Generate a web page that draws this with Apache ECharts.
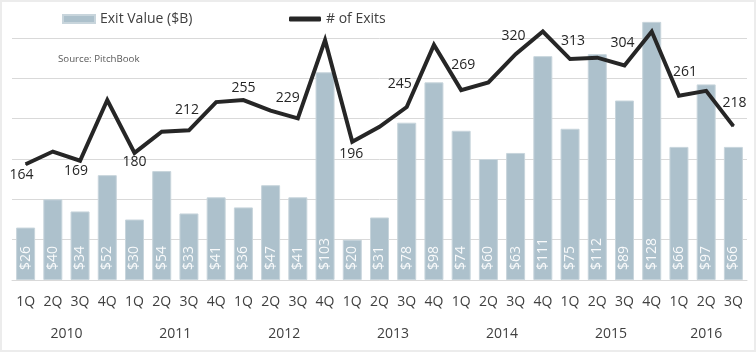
<!DOCTYPE html>
<html>
<head>
<meta charset="utf-8">
<script src="https://cdn.jsdelivr.net/npm/echarts@6/dist/echarts.min.js"></script>
<style>
  html, body { margin: 0; padding: 0; background: #fff; }
  #chart {
    width: 756px;
    height: 352px;
    box-sizing: border-box;
    border: 2px solid #ececec;
    background: #fff;
  }
</style>
</head>
<body>
<div id="chart"></div>
<script>
// quarters 1Q 2010 .. 3Q 2016
const quarters = ['1Q','2Q','3Q','4Q','1Q','2Q','3Q','4Q','1Q','2Q','3Q','4Q','1Q','2Q',
                  '3Q','4Q','1Q','2Q','3Q','4Q','1Q','2Q','3Q','4Q','1Q','2Q','3Q'];
const years = ['2010','2011','2012','2013','2014','2015','2016'];
const exitValue = [26,40,34,52,30,54,33,41,36,47,41,103,20,31,78,98,74,60,63,111,75,112,89,128,66,97,66];
const exitCount = [164,182,169,255,180,210,212,252,255,240,229,340,196,217,245,333,269,280,320,352,313,315,304,352,261,268,218];

// label placement for the numbered points (offset of label centre from the point)
const labelOffsets = {
    0: [-4, 11], 2: [-4, 10], 4: [0, 9], 6: [-2, -20], 8: [0, -12], 10: [-10, -20],
    12: [-1, 12], 14: [-7, -23], 16: [2, -25], 18: [-2, -18], 20: [3, -18],
    22: [-2, -22], 24: [6, -24], 26: [1, -23]
};

// centre of each year under its quarters (in category units)
const yearCenters = [];
let start = 0;
quarters.forEach((q, i) => {
    if (i > 0 && q === '1Q') {
        yearCenters.push((start + i) / 2);
        start = i;
    }
});
yearCenters.push((start + quarters.length) / 2);

const font = '"Open Sans", "Noto Sans", sans-serif';

const lineData = exitCount.map((v, i) => {
    const off = labelOffsets[i];
    if (!off) return { value: v, label: { show: false } };
    return {
        value: v,
        label: {
            show: true,
            position: 'inside',
            offset: off,
            align: 'center',
            verticalAlign: 'middle'
        }
    };
});

// the original plot is cut off at the top: the secondary axis runs 0-400 over 0-140 of the primary
const barMax = 120;
const lineMax = 400 * barMax / 140;

const chart = echarts.init(document.getElementById('chart'));
chart.setOption({
    animation: false,
    textStyle: { fontFamily: font },
    title: {
        text: 'Source: PitchBook',
        left: 56,
        top: 52,
        padding: 0,
        textStyle: { fontSize: 9.7, fontWeight: 'normal', color: '#595959', fontFamily: font }
    },
    legend: [
        {
            data: ['Exit Value ($B)'],
            left: 60,
            top: 10,
            padding: 0,
            itemWidth: 32,
            itemHeight: 8,
            icon: 'rect',
            textStyle: { fontSize: 14, color: '#404040', fontFamily: font }
        },
        {
            data: [{ name: '# of Exits', icon: 'roundRect', itemStyle: { color: '#262626' } }],
            left: 287,
            top: 10,
            padding: 0,
            itemWidth: 32,
            itemHeight: 5,
            textStyle: { fontSize: 14, color: '#404040', fontFamily: font }
        }
    ],
    grid: { left: 10, right: 7, top: 36, bottom: 70, containLabel: false },
    xAxis: [
        {
            type: 'category',
            data: quarters,
            axisLine: { show: true, lineStyle: { color: '#d9d9d9' } },
            axisTick: { show: false },
            axisLabel: { interval: 0, margin: 15, fontSize: 14, color: '#404040', fontFamily: font }
        },
        {
            type: 'value',
            min: 0,
            max: quarters.length,
            position: 'bottom',
            axisLine: { show: false },
            axisTick: { show: false },
            splitLine: { show: false },
            axisLabel: {
                customValues: yearCenters,
                margin: 47,
                fontSize: 14,
                color: '#404040',
                fontFamily: font,
                formatter: v => years[yearCenters.indexOf(v)] || ''
            }
        }
    ],
    yAxis: [
        {
            type: 'value',
            min: 0,
            max: barMax,
            interval: 20,
            axisLine: { show: false },
            axisTick: { show: false },
            axisLabel: { show: false },
            splitLine: { lineStyle: { color: '#d9d9d9' } }
        },
        {
            type: 'value',
            min: 0,
            max: lineMax,
            axisLine: { show: false },
            axisTick: { show: false },
            axisLabel: { show: false },
            splitLine: { show: false }
        }
    ],
    series: [
        {
            name: 'Exit Value ($B)',
            type: 'bar',
            data: exitValue,
            barWidth: 19,
            clip: false,
            itemStyle: { color: '#adc1cc', borderColor: '#c8d5dc', borderWidth: 1 },
            label: {
                show: true,
                position: 'insideBottom',
                rotate: 90,
                align: 'left',
                verticalAlign: 'middle',
                distance: 10,
                fontSize: 14,
                color: 'rgba(255,255,255,0.92)',
                fontFamily: font,
                formatter: p => '$' + p.value
            }
        },
        {
            name: '# of Exits',
            type: 'line',
            yAxisIndex: 1,
            data: lineData,
            clip: false,
            symbol: 'circle',
            symbolSize: 1,
            itemStyle: { color: '#262626' },
            lineStyle: { color: '#262626', width: 4, join: 'miter' },
            label: { fontSize: 14, color: '#262626', fontFamily: font },
            z: 5
        }
    ]
});
</script>
</body>
</html>
